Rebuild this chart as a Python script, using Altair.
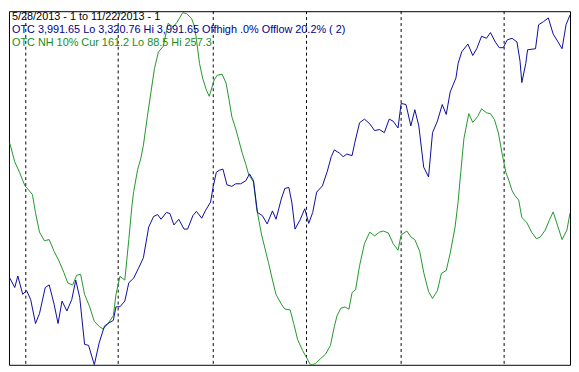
import altair as alt
import pandas as pd

# ---- data (x = trading day since 5/28/2013) ----
blue_day = [0.2, 1.3, 2, 3.1, 4, 4.9, 6, 6.9, 8.2, 9.1, 10.2, 11.1, 12, 13.1, 14.2, 15.1, 16, 17.1, 18, 19.3,
            20.4, 21.6, 22.4, 23.6, 24.2, 25.1, 26.2, 27.1, 28.2, 29.3, 30.4, 31.6, 32.7, 33.6, 34.4, 35.6, 36.4,
            37.3, 38.4, 39.6, 40.4, 41.6, 42.4, 43.6, 44.4, 45.6, 46.2, 46.9, 47.6, 48.4, 49.3, 50.4, 51.3, 52.4,
            53.6, 54.4, 55.3, 56.2, 57.3, 58.4, 59.6, 60.4, 61.6, 62.4, 63.3, 64, 64.7, 65.8, 66.9, 67.8, 68.7,
            69.6, 70.9, 72, 72.9, 73.6, 74.7, 75.6, 76.4, 77.6, 78.2, 79.3, 80.4, 81.6, 82.7, 83.8, 84.9, 86,
            86.9, 88, 88.7, 89.8, 90.9, 91.8, 92.7, 93.8, 94.9, 95.8, 96.9, 98, 98.9, 99.8, 101.1, 101.6, 102.4,
            103.8, 104.9, 105.8, 106.9, 108, 108.9, 110, 110.9, 111.8, 112.7, 113.8, 114.9, 115.6, 116, 116.9,
            117.3, 119.1, 119.8, 120.9, 122, 123.1, 124.2, 125.1, 126, 126.9]
blue_val = [3487, 3469, 3491, 3456, 3463, 3446, 3400, 3419, 3469, 3474, 3437, 3400, 3443, 3424, 3446, 3483, 3450,
            3360, 3358, 3320.76, 3363, 3395, 3400, 3406, 3432, 3432, 3443, 3478, 3487, 3506, 3526, 3585, 3605,
            3609, 3600, 3613, 3611, 3589, 3600, 3581, 3581, 3607, 3615, 3602, 3616, 3633, 3663, 3690, 3694, 3696,
            3666, 3663, 3668, 3668, 3674, 3687, 3674, 3613, 3607, 3591, 3616, 3600, 3639, 3659, 3661, 3631, 3581,
            3598, 3620, 3592, 3613, 3652, 3664, 3692, 3720, 3733, 3727, 3720, 3725, 3722, 3746, 3785, 3792, 3783,
            3770, 3772, 3766, 3792, 3788, 3775, 3822, 3820, 3779, 3810, 3779, 3700, 3681, 3766, 3788, 3820, 3801,
            3844, 3871, 3899, 3921, 3936, 3914, 3927, 3951, 3947, 3958, 3940, 3929, 3929, 3944, 3947, 3940, 3903,
            3862, 3899, 3925, 3927, 3973, 3979, 3986, 3955, 3940, 3927, 3973, 3991.65]

green_day = [0.2, 1.3, 2.4, 3.6, 4.4, 5.3, 6, 6.9, 8, 9.1, 10.2, 11.3, 12.4, 13.3, 14.4, 15.3, 16.2, 17.1, 18.2,
             19.3, 20.4, 21.3, 22.4, 23.6, 24.2, 25.1, 26.2, 27.1, 27.8, 28.2, 29.1, 29.8, 30.4, 31.3, 32.9, 33.8,
             34.9, 36, 37.1, 38, 39.3, 40.2, 41.3, 42, 42.4, 43.1, 43.8, 44.7, 45.3, 46.4, 47.1, 48.2, 49.1, 49.8,
             50.4, 51.3, 52, 52.7, 53.6, 54.2, 55.3, 56, 57.1, 58.7, 59.6, 60.4, 61.6, 62.4, 63.6, 64.4, 65.3,
             66.4, 67.6, 68.2, 69.3, 70.4, 71.6, 72.7, 73.6, 74.2, 75.1, 76, 76.9, 77.6, 78.4, 79.3, 80.4, 81.6,
             82.7, 83.8, 84.7, 85.8, 86.9, 88, 88.7, 90, 90.9, 91.8, 92.9, 93.8, 94.9, 95.8, 96.9, 97.8, 98.9,
             99.8, 100.9, 101.6, 102.2, 102.9, 104, 104.9, 106, 106.9, 108, 108.9, 109.8, 110.7, 111.6, 112.4,
             113.1, 113.8, 114.4, 115.3, 116, 117.1, 118.2, 119.3, 120.2, 121.3, 122.2, 123.1, 124.2, 125.1,
             126.2, 126.9]
green_val = [194.6, 185.8, 180.7, 174.3, 172.4, 170.1, 161.4, 152.1, 148, 148.5, 142.9, 138.3, 132.8, 127.7, 126.8,
             131.4, 131.9, 122.2, 116.6, 109.3, 106.9, 105.6, 108.3, 112, 122.2, 130.9, 129.1, 148.5, 164.6, 171.5,
             182.1, 187.2, 193.7, 207.5, 230.5, 238.4, 241.2, 252.2, 250.4, 252.7, 257.3, 256.8, 254.5, 250.4,
             244.4, 232.9, 225.9, 219.9, 217.2, 225, 227.3, 227.8, 223.6, 215.3, 207.5, 201.5, 196, 190.4, 184.4,
             179.8, 176.1, 163.7, 151.2, 137.4, 129.1, 122.2, 117.6, 115.2, 114.8, 108.3, 100.5, 95.4, 90.8, 88.5,
             89, 91.3, 93.6, 97.7, 106.9, 112, 115.7, 116.2, 115.2, 123.1, 124.5, 136, 146.6, 152.1, 150.3, 152.1,
             152.6, 151.7, 146.6, 143.4, 150.8, 152.6, 149.8, 148.5, 142.9, 132.8, 123.6, 120.3, 124, 132.3, 133.7,
             142, 154.5, 166.9, 181.2, 196.9, 208.9, 204.7, 207.5, 211.2, 209.3, 208.9, 206.1, 199.6, 189, 180.7,
             176.6, 172, 169.7, 167.4, 159.1, 156.8, 152.1, 148.9, 149.8, 153.1, 157.7, 161.8, 154.5, 148.5,
             153.1, 161.2]

month_start_day = [3.8, 24.7, 46.2, 67.3, 88.7, 112.0]

header_lines = [
    "5/28/2013 - 1 to 11/22/2013 - 1",
    "OTC 3,991.65 Lo 3,320.76 Hi 3,991.65  Offhigh .0%  Offlow 20.2% ( 2)",
    "OTC NH 10% Cur 161.2 Lo 88.5 Hi 257.3",
]
header_colors = ["#000000", "#00008C", "#1A8C1A"]

X_DOMAIN = [0, 126.9]
BLUE_DOMAIN = [3320.76, 3999]
GREEN_DOMAIN = [88.5, 258]

blue_df = pd.DataFrame({"day": blue_day, "value": blue_val})
green_df = pd.DataFrame({"day": green_day, "value": green_val})
rules_df = pd.DataFrame({"day": month_start_day})
text_df = pd.DataFrame({"line": header_lines, "color": header_colors, "row": [0, 1, 2]})

xenc = alt.X("day:Q", scale=alt.Scale(domain=X_DOMAIN, nice=False, zero=False), axis=None)

rules = alt.Chart(rules_df).mark_rule(color="black", strokeWidth=1, strokeDash=[3, 3]).encode(x=xenc)

blue = alt.Chart(blue_df).mark_line(color="#0A0A9C", strokeWidth=1, clip=True).encode(
    x=xenc,
    y=alt.Y("value:Q", scale=alt.Scale(domain=BLUE_DOMAIN, nice=False, zero=False), axis=None),
)

green = alt.Chart(green_df).mark_line(color="#22962A", strokeWidth=1, clip=True).encode(
    x=xenc,
    y=alt.Y("value:Q", scale=alt.Scale(domain=GREEN_DOMAIN, nice=False, zero=False), axis=None),
)

text = alt.Chart(text_df).mark_text(
    align="left", baseline="middle", font="Liberation Sans", fontSize=11
).encode(
    x=alt.value(3),
    y=alt.Y("row:Q", scale=alt.Scale(domain=[0, 2], range=[6, 32]), axis=None),
    text="line:N",
    color=alt.Color("color:N", scale=None),
)

chart = alt.layer(rules, green, blue, text).resolve_scale(y="independent").properties(
    width=568,
    height=358,
    autosize=alt.AutoSizeParams(type="none"),
    padding={"left": 1, "top": 1, "right": 1, "bottom": 1},
    background="white",
).configure_view(stroke="black", strokeWidth=1)

chart.save("out.html", embed_options={"renderer": "svg", "actions": False})
